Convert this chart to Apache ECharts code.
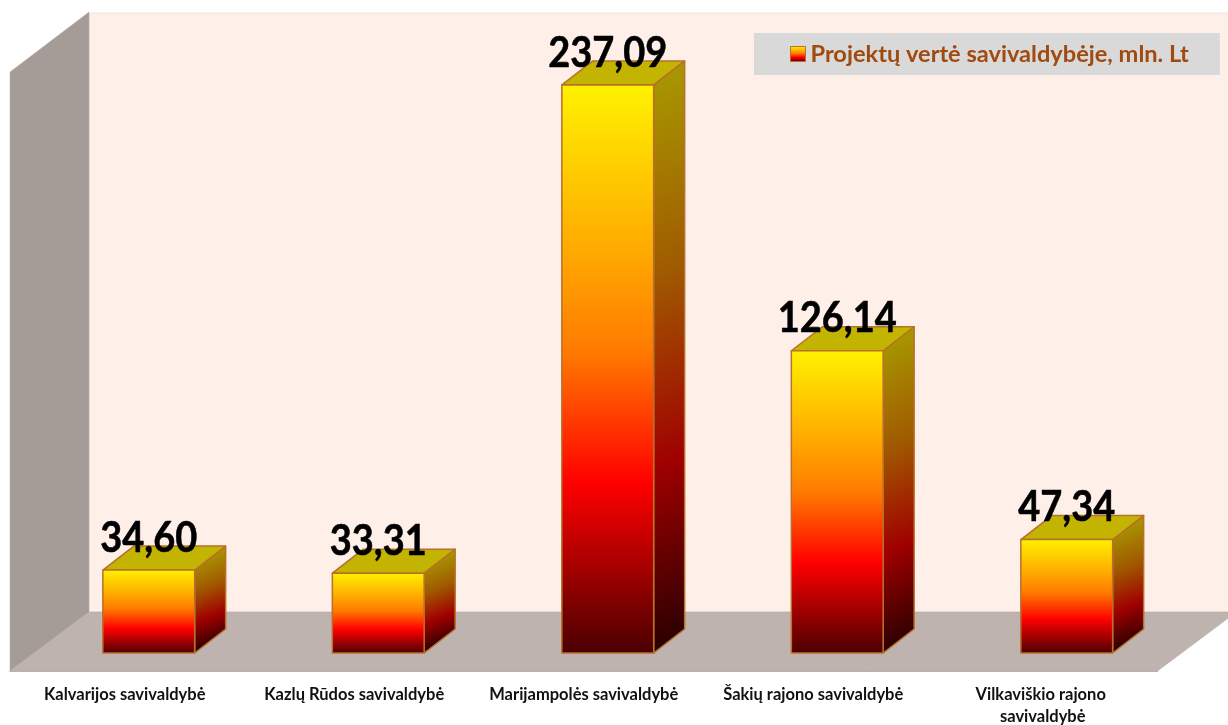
<!DOCTYPE html>
<html>
<head>
<meta charset="utf-8">
<style>html,body{margin:0;padding:0;background:#fff}#c{width:1228px;height:725px}</style>
<script src="https://cdn.jsdelivr.net/npm/echarts@6/dist/echarts.min.js"></script>
</head>
<body>
<div id="c"></div>
<script>
const categories = ['Kalvarijos savivaldybė','Kazlų Rūdos savivaldybė','Marijampolės savivaldybė','Šakių rajono savivaldybė','Vilkaviškio rajono savivaldybė'];
const values = [34.60, 33.31, 237.09, 126.14, 47.34];
const seriesName = 'Projektų vertė savivaldybėje, mln. Lt';

const FONT = 'Lato, Carlito, "Open Sans", sans-serif';
const toStops = stops => stops.map(s => ({offset: s[0], color: s[1]}));
const frontStops = [[0,'#FFF200'],[0.3,'#FFA800'],[0.47,'#FF7A00'],[0.7,'#FF0000'],[1,'#4A0000']];
const sideStops = [[0,'#A89800'],[0.35,'#A05A00'],[0.68,'#A00000'],[1,'#2A0000']];
const frontFill = new echarts.graphic.LinearGradient(0, 0, 0, 1, toStops(frontStops));

const chart = echarts.init(document.getElementById('c'), null, {renderer:'canvas'});

function renderWalls(params, api) {
  const c = params.coordSys;
  const L = c.x, R = c.x + c.width, T = c.y, B = c.y + c.height;
  const dx = 79, dy = 59;
  return {type:'group', silent:true, children:[
    {type:'rect', shape:{x:L+dx, y:T-dy+0, width:c.width, height:c.height}, style:{fill:'#FFEFE9', stroke:'#F2E4DF', lineWidth:1}},
    {type:'polygon', shape:{points:[[L,T],[L+dx,T-dy-1],[L+dx,B-dy],[L,B]]}, style:{fill:'#A59C98', stroke:'#B5ADA9', lineWidth:0.5}},
    {type:'polygon', shape:{points:[[L,B],[L+dx,B-dy],[R+dx,B-dy],[R,B]]}, style:{fill:'#BFB3B0', stroke:'#B0A5A2', lineWidth:0.5}}
  ]};
}

function renderBar(params, api) {
  const p = api.coord([api.value(0), api.value(1)]);
  const base = api.coord([api.value(0), 0]);
  const w = api.size([1,0])[0] * 0.4;
  const ox = 24, oy = -18, dx = 31, dy = -24;
  const x0 = p[0] + ox - w/2, x1 = x0 + w, yT = p[1] + oy, yB = base[1] + oy;
  const border = {stroke:'#B8702A', lineWidth:1.5, lineJoin:'round'};
  const k = 0.39, h = yB - yT, s = (h + 12) / (1 + k * k);
  const sx = x1 + dx, sy = yT + dy;
  const sideFill = new echarts.graphic.LinearGradient(sx, sy, sx + s * k, sy + s, toStops(sideStops), true);
  return {type:'group', children:[
    {type:'polygon', shape:{points:[[x1,yT],[x1+dx,yT+dy],[x1+dx,yB+dy],[x1,yB]]},
      style:Object.assign({fill:sideFill}, border)},
    {type:'polygon', shape:{points:[[x0,yT],[x0+dx,yT+dy],[x1+dx,yT+dy],[x1,yT]]},
      style:Object.assign({fill:'#C2B400'}, border)},
    {type:'rect', shape:{x:x0, y:yT, width:w, height:h},
      style:Object.assign({fill:frontFill}, border)},
    {type:'text', x:p[0]+ox, y:yT-32, z2:50, scaleY:1.12,
      style:{text:api.value(1).toFixed(2).replace('.',','), fill:'#000', stroke:'#000', lineWidth:0.5, align:'center', verticalAlign:'middle',
        font:'bold 38px '+FONT}}
  ]};
}

chart.setOption({
  animation:false,
  backgroundColor:'#fff',
  grid:{left:10, top:72, width:1147.5, height:599, containLabel:false, outerBoundsMode:'none'},
  legend:{
    show:true, data:[seriesName], left:754, top:33, orient:'horizontal',
    icon:'rect', itemWidth:15, itemHeight:15, itemGap:6,
    padding:[9,31,9,36], backgroundColor:'#D9D9D9', selectedMode:false,
    itemStyle:{borderColor:'#B8702A', borderWidth:1},
    textStyle:{fontFamily:FONT, fontWeight:'bold', fontSize:23.6, color:'#A04A10'}
  },
  xAxis:{type:'category', data:categories, axisTick:{show:false},
    axisLine:{show:true, lineStyle:{color:'#A8A0A0', width:1.5}},
    axisLabel:{interval:0, margin:13, fontFamily:FONT, fontWeight:'bold', fontSize:16.5, color:'#111', lineHeight:22, width:212, overflow:'break'}},
  yAxis:{type:'value', min:0, max:250, show:false},
  series:[
    {type:'custom', name:'walls', silent:true, z:1, data:[[0,0]], renderItem:renderWalls, encode:{x:0,y:1}, clip:false},
    {type:'custom', name:seriesName, z:2, data:values.map((v,i)=>[i,v]), renderItem:renderBar, encode:{x:0,y:1}, clip:false,
      itemStyle:{color:frontFill, borderColor:'#B8702A', borderWidth:1}}
  ]
});
</script>
</body>
</html>
